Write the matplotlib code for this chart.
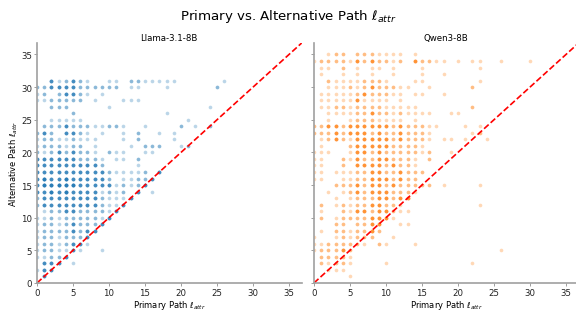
import matplotlib.pyplot as plt

# rows are y = 35 down to 0; each character is x = 0, 1, 2, ...
# '.' = no point, digit = how dense the stacked points look (1 light .. 4 dark)
llama_rows = [
    "", "", "", "",
    "..312 321.. 11.22 11111 ..... .1",   # 31
    "22333 32222 22.11 ...1. ..... 2",    # 30
    "12.23 321.1",                        # 29
    "11222 22.1. ..111",                  # 28
    "..222 ..... 1.... ..... ....1",      # 27
    "..... 2.... ..... ...1.",            # 26
    "..111 11... ..... ..... .1",         # 25
    ".2223 22211 221.. 1.... 2.1.2",      # 24
    "232.3 321.1 ..1.2 ..1.1",            # 23
    "12211 2111. ..1.2 ....1",            # 22
    "12221 22.1. ...1. 222.. 12",         # 21
    "21232 3221. 211.. 11",               # 20
    "33333 32221 .11.2",                  # 19
    "33333 33332 ....1",                  # 18
    "33333 33333 21111 2.3",              # 17
    "34334 33333 2.112 23",               # 16
    "34444 43333 31212 3",                # 15
    "33434 33331 212.3 .1",               # 14
    "23333 33332 1113",                   # 13
    "23333 33332 113",                    # 12
    ".1223 32222 13",                     # 11
    "11212 22221 3",                      # 10
    "12212 32223",                        # 9
    "12222 3233",                         # 8
    "12212 223",                          # 7
    "12212 331",                          # 6
    "12211 31..1",                        # 5
    "11223",                              # 4
    ".333. 1",                            # 3
    "133",                                # 2
    ".3",                                 # 1
    "2",                                  # 0
]

qwen_rows = [
    "..122 .2221 111.1",                          # 35
    "12222 13232 212.3 2211. 1.11. .1... 1",      # 34
    ".11.2 .1.11 .1... 1.... ...1",               # 33
    ".1..1 .1.1. .1... 1..1",                     # 32
    "..211 11222 1...1 1.... ...1",               # 31
    "..111 21232 2211. .1... ..2",                # 30
    ".1111 12322 211.1 1..1",                     # 29
    ".1111 13111 1.1",                            # 28
    ".1122 12222 11111 ..... ..2",                # 27
    "..111 12232 21211 11..1 1",                  # 26
    "..1.. 12221 111.1",                          # 25
    "22332 33333 32322 211.. .1.1",               # 24
    "22232 33323 22322 21... ..12",               # 23
    ".1232 13333 32322 21.11 .1..1",              # 22
    ".1... 23333 32222 1",                        # 21
    "111.. 13323 22222 12..1",                    # 20
    "11..2 13223 32221 .2",                       # 19
    "11..2 .3333 23221",                          # 18
    "11.11 12233 22322 2",                        # 17
    "11..1 12233 32322",                          # 16
    "...22 23233 23222 22.1. ...1",               # 15
    "..1.1 23233 32221",                          # 14
    "...1. 12223 3233",                           # 13
    ".2.12 12233 221.. ..... ...1",               # 12
    ".1..2 13323 3211",                           # 11
    ".2.12 22233 31",                             # 10
    "...22 .2233 ..11",                           # 9
    ".1.22 12232",                                # 8
    "1..12 1222. .1",                             # 7
    "11222 221.2 1...1",                          # 6
    "12223 2.... ..... ..... ..... .1",           # 5
    ".2222 1",                                    # 4
    ".2122 1.... 1.... ..... ..1",                # 3
    "..111",                                      # 2
    "..... 1",                                    # 1
    "1",                                          # 0
]

models = ["Llama-3.1-8B", "Qwen3-8B"]
colors = ["#1f77b4", "#ff7f0e"]
stack = {"1": 1, "2": 2, "3": 5, "4": 8}
top = 35
lim = 36.75


def expand(rows):
    xs, ys = [], []
    for i, row in enumerate(rows):
        y = top - i
        for x, c in enumerate(row.replace(" ", "")):
            if c in stack:
                xs += [x] * stack[c]
                ys += [y] * stack[c]
    return xs, ys


fig, axes = plt.subplots(1, 2, figsize=(12, 6.52), dpi=48, sharey=True)
fig.subplots_adjust(left=0.0642, right=1.0045, bottom=0.0927, top=0.8594, wspace=0.0465)

for ax, rows, name, col in zip(axes, [llama_rows, qwen_rows], models, colors):
    xs, ys = expand(rows)
    ax.scatter(xs, ys, s=30, color=col, alpha=0.3, linewidths=0)
    ax.plot([0, lim], [0, lim], "r--", lw=2.5)
    ax.set_xlim(0, lim)
    ax.set_ylim(0, lim)
    ax.set_xticks(range(0, 36, 5))
    ax.set_yticks(range(0, 36, 5))
    ax.set_title(name, fontsize=13, pad=4)
    ax.set_xlabel(r"Primary Path $\ell_{attr}$", fontsize=12.5, labelpad=2)
    for side in ["top", "right"]:
        ax.spines[side].set_visible(False)
    for side in ["left", "bottom"]:
        ax.spines[side].set_color("#a0a0a0")
        ax.spines[side].set_linewidth(2.5)
    ax.tick_params(colors="#a0a0a0", labelcolor="#222222", labelsize=13, width=1.5, length=4)

axes[0].set_ylabel(r"Alternative Path $\ell_{attr}$", fontsize=12.5, labelpad=2)

fig.suptitle(r"Primary vs. Alternative Path $\ell_{attr}$", fontsize=20, y=0.946, va="center")

plt.savefig("out.png", dpi=48)
plt.close()
